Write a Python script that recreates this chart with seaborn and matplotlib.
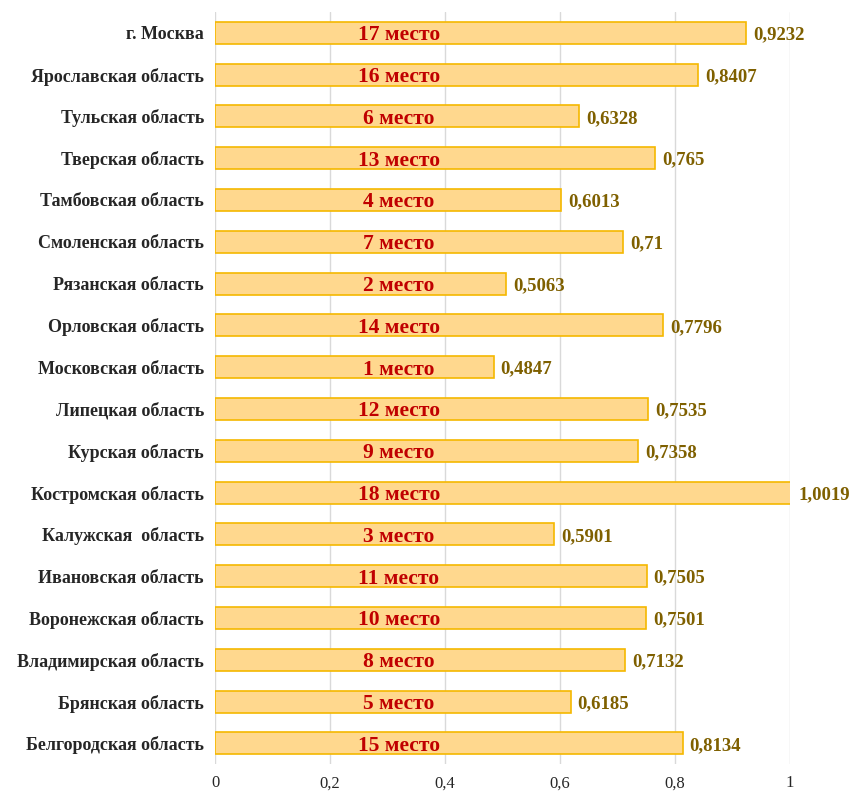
import matplotlib
matplotlib.use("Agg")
import matplotlib.pyplot as plt
import seaborn as sns
import pandas as pd

regions = ["г. Москва", "Ярославская область", "Тульская область", "Тверская область",
           "Тамбовская область", "Смоленская область", "Рязанская область", "Орловская область",
           "Московская область", "Липецкая область", "Курская область", "Костромская область",
           "Калужская  область", "Ивановская область", "Воронежская область",
           "Владимирская область", "Брянская область", "Белгородская область"]
values = [0.9232, 0.8407, 0.6328, 0.765, 0.6013, 0.71, 0.5063, 0.7796, 0.4847,
          0.7535, 0.7358, 1.0019, 0.5901, 0.7505, 0.7501, 0.7132, 0.6185, 0.8134]
ranks = [17, 16, 6, 13, 4, 7, 2, 14, 1, 12, 9, 18, 3, 11, 10, 8, 5, 15]
xticks = [0, 0.2, 0.4, 0.6, 0.8, 1.0]

df = pd.DataFrame({"region": regions, "value": values, "rank": ranks})

sns.set_style("white")
plt.rcParams["font.family"] = ["Liberation Serif", "DejaVu Serif"]

fig = plt.figure(figsize=(8.55, 7.92), dpi=100)
ax = fig.add_axes([0.2515, 0.035, 0.6725, 0.95])

sns.barplot(data=df, x="value", y="region", orient="h", ax=ax, width=0.53,
            color="#FFD88E", edgecolor="#F5B800", linewidth=1.2, saturation=1, zorder=3)

ax.set_xlim(0, 1.0)
ax.set_ylim(17.5, -0.5)
ax.set_xticks(xticks)
ax.set_xticklabels([f"{t:g}".replace(".", ",") for t in xticks], fontsize=12)
ax.grid(axis="x", color="#D9D9D9", linewidth=1, zorder=0)
for s in ax.spines.values():
    s.set_visible(False)
ax.tick_params(axis="both", length=0)
ax.tick_params(axis="x", pad=8)
ax.tick_params(axis="y", pad=8)
ax.set_xlabel("")
ax.set_ylabel("")
for lab in ax.get_yticklabels():
    lab.set_fontweight("bold")
    lab.set_fontsize(13)

for i, (v, r) in enumerate(zip(values, ranks)):
    ax.text(0.32, i + 0.06, f"{r} место", ha="center", va="center", fontsize=15.5,
            fontweight="bold", color="#C00000", zorder=4)
    ax.annotate(f"{v:g}".replace(".", ","), xy=(v, i), xytext=(7, -2),
                textcoords="offset pixels", ha="left", va="center",
                fontsize=13.5, fontweight="bold", color="#7F6000",
                annotation_clip=False, zorder=4)

fig.savefig("out.png", dpi=100)
